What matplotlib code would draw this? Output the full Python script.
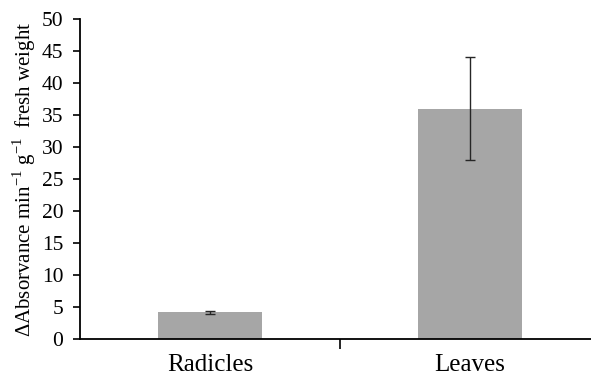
import matplotlib.pyplot as plt
import numpy as np

plt.rcParams['font.family'] = ['Liberation Serif', 'DejaVu Serif']
plt.rcParams['mathtext.fontset'] = 'custom'
plt.rcParams['mathtext.rm'] = 'Liberation Serif'

categories = ["Radicles", "Leaves"]
values = [4.2, 36.0]
errors = [0.25, 8.0]
yticks = list(range(0, 51, 5))

fig = plt.figure(figsize=(5.91, 3.78), dpi=100)
ax = fig.add_axes([80/591, 39/378, 511/591, 320/378])

x = np.arange(len(categories))
ax.bar(x, values, width=0.4, color='#A6A6A6', zorder=2)
ax.errorbar(x, values, yerr=errors, fmt='none', ecolor='#262626',
            elinewidth=1.0, capsize=3.8, capthick=1.0, zorder=3)

ax.set_xlim(-0.5, -0.5 + 511/260)
ax.set_ylim(0, 50)
ax.set_yticks(yticks)
ax.tick_params(axis='y', labelsize=15.5, length=5, width=1.2, direction='out', pad=7)

ax.set_xticks(x)
ax.set_xticklabels(categories, fontsize=18)
ax.tick_params(axis='x', which='major', length=0, pad=11)
ax.set_xticks([0.5], minor=True)
ax.tick_params(axis='x', which='minor', length=7, width=1.2, direction='out')

for s in ['top', 'right']:
    ax.spines[s].set_visible(False)
for s in ['left', 'bottom']:
    ax.spines[s].set_linewidth(1.3)

ax.set_ylabel(r"ΔAbsorvance min$^{-1}$ g$^{-1}$  fresh weight", fontsize=15, labelpad=2)
ax.yaxis.set_label_coords(-42/511, 0.5)

fig.savefig("out.png", dpi=100)
